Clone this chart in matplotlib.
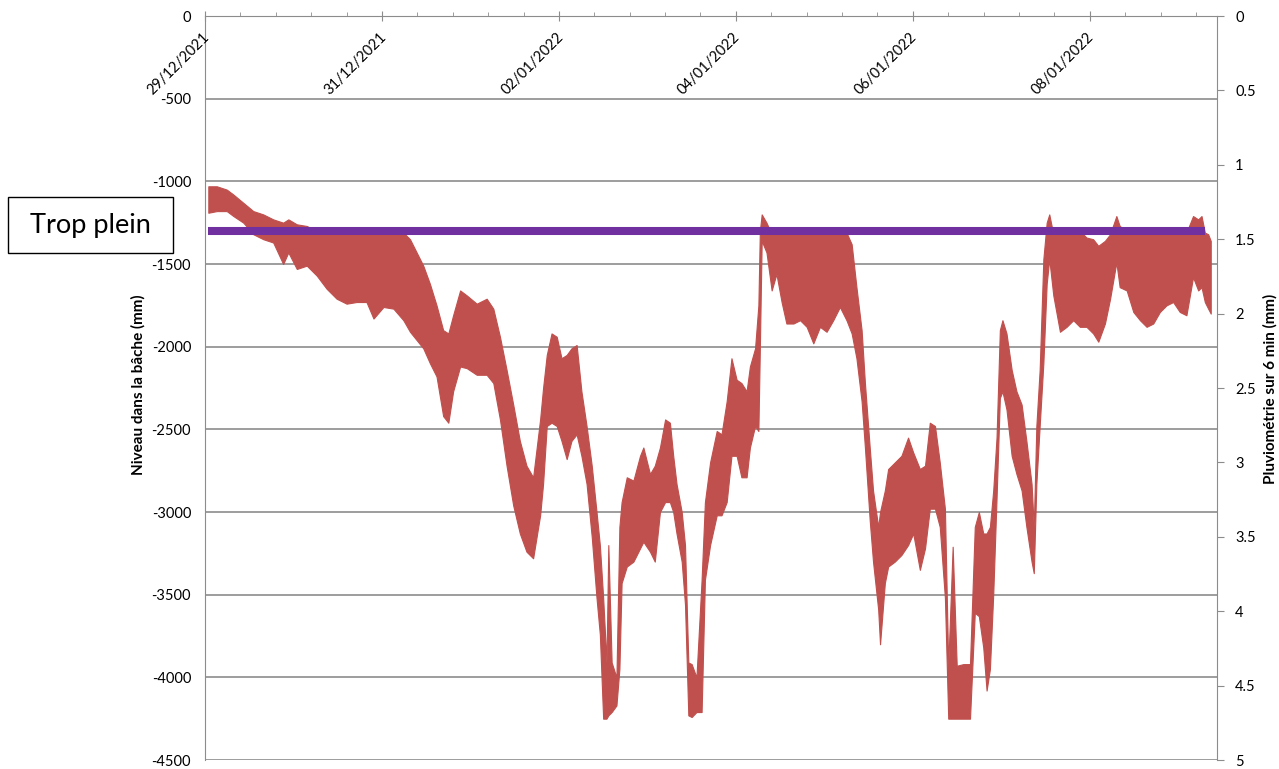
import numpy as np
import pandas as pd
import matplotlib
matplotlib.use('Agg')
import matplotlib.pyplot as plt
import matplotlib.dates as mdates
from matplotlib.ticker import AutoMinorLocator, MultipleLocator, FuncFormatter
from matplotlib.transforms import offset_copy
from matplotlib.patches import Rectangle

plt.rcParams['font.family'] = ['Lato', 'DejaVu Sans']
plt.rcParams['axes.unicode_minus'] = False

# debut de la serie : 29/12/2021 00:00, temps en heures
debut = pd.Timestamp('2021-12-29 00:00')

heures = [0.9, 3.2, 5.9, 7.7, 10.4, 13.1, 15.8, 18.5, 21.2, 22.6,
          24.9, 27.6, 30.3, 33.0, 35.7, 38.4, 41.1, 43.8, 45.7, 48.4,
          51.1, 53.8, 55.6, 57.4, 59.2, 61.0, 62.8, 64.6, 66.0, 67.3,
          69.2, 71.0, 73.7, 76.4, 78.2, 80.0, 81.8, 83.6, 85.4, 87.2,
          89.0,
          90.9, 91.7, 92.7, 94.0, 95.4, 96.7, 98.1, 99.4, 100.8, 102.1,
          103.5, 104.9, 106.2, 107.1, 108.0, 108.9, 109.4, 110.3, 111.6, 112.4,
          113.0, 114.4, 116.2, 118.0, 118.9, 120.7, 122.0, 123.4, 124.8, 126.1,
          127.0, 127.9, 129.3, 130.2, 131.1, 132.0, 133.3, 134.7, 135.6, 137.0,
          138.8, 140.1, 141.5, 142.8, 144.2, 145.5, 146.9, 147.8, 149.2, 150.1,
          150.5, 151.0, 152.3, 153.7, 155.0, 156.4, 157.7, 159.6, 161.4, 163.2,
          165.0, 166.8, 168.6, 170.4, 172.2, 174.0, 175.4, 176.7, 178.1, 179.0,
          180.3, 181.2, 182.6,
          183.1, 184.4, 185.3, 187.1, 188.9, 190.7, 192.1, 193.9, 195.3, 196.6,
          198.0, 199.3, 200.7, 201.6, 202.8, 203.9, 205.7, 207.5, 208.8, 209.9,
          211.1, 212.0, 212.9, 213.8, 214.7, 215.6, 216.3, 217.4, 218.8, 220.1,
          221.5, 222.8, 224.2, 224.8, 225.5, 226.4, 227.4, 228.3, 229.0, 230.1,
          231.9, 233.7, 235.5, 237.3, 239.1, 240.9, 242.3, 244.1, 245.5, 247.2,
          248.1, 250.0, 251.8, 253.6, 255.4, 257.2, 259.0, 260.8, 262.6, 264.4,
          266.2, 268.0, 269.4, 270.3, 271.2, 272.1, 272.8]

# enveloppe haute (niveau max) et basse (niveau min) du signal, en mm
niveau_haut = [-1030, -1030, -1050, -1080, -1130, -1180, -1200, -1230, -1250, -1230,
               -1260, -1270, -1300, -1300, -1300, -1300, -1300, -1300, -1300, -1300,
               -1300, -1310, -1350, -1430, -1510, -1620, -1750, -1900, -1920, -1810,
               -1660, -1690, -1740, -1710, -1770, -1940, -2140, -2350, -2570, -2720,
               -2790,
               -2440, -2250, -2050, -1920, -1940, -2070, -2050, -2010, -1990, -2270,
               -2480, -2720, -3000, -3200, -3520, -3910, -3200, -3910, -4000, -3090,
               -2940, -2790, -2810, -2660, -2610, -2770, -2720, -2610, -2440, -2460,
               -2660, -2830, -3000, -3200, -3910, -3920, -4000, -3410, -2940, -2700,
               -2510, -2530, -2330, -2070, -2200, -2220, -2270, -2120, -2010, -1750,
               -1300, -1200, -1250, -1320, -1300, -1300, -1300, -1300, -1300, -1300,
               -1300, -1300, -1300, -1300, -1300, -1310, -1380, -1640, -1900, -2220,
               -2610, -2870, -3090,
               -3000, -2870, -2740, -2700, -2660, -2550, -2640, -2740, -2720, -2460,
               -2480, -2700, -2980, -3930, -3210, -3930, -3920, -3920, -3090, -3000,
               -3130, -3130, -3090, -2870, -2550, -1900, -1840, -1920, -2140, -2270,
               -2350, -2570, -2830, -3090, -2480, -2140, -1470, -1250, -1200, -1320,
               -1300, -1300, -1300, -1300, -1340, -1350, -1390, -1360, -1320, -1210,
               -1270, -1300, -1310, -1310, -1310, -1310, -1310, -1310, -1310, -1310,
               -1310, -1210, -1230, -1210, -1310, -1320, -1360]

niveau_bas = [-1190, -1180, -1180, -1210, -1250, -1320, -1350, -1370, -1500, -1430,
              -1530, -1510, -1570, -1650, -1710, -1740, -1730, -1730, -1830, -1760,
              -1770, -1840, -1910, -1960, -2010, -2100, -2180, -2420, -2460, -2270,
              -2120, -2130, -2170, -2170, -2220, -2440, -2720, -2960, -3130, -3240,
              -3280,
              -3020, -2830, -2480, -2460, -2480, -2570, -2680, -2570, -2530, -2660,
              -2830, -3150, -3520, -3740, -4250, -4250, -4230, -4210, -4170, -3950,
              -3430, -3330, -3300, -3220, -3180, -3240, -3300, -3000, -2940, -2940,
              -3000, -3130, -3300, -3560, -4230, -4240, -4210, -4210, -3410, -3200,
              -3020, -3020, -2940, -2660, -2660, -2790, -2790, -2610, -2480, -2510,
              -2010, -1360, -1430, -1660, -1560, -1730, -1860, -1860, -1840, -1880,
              -1980, -1880, -1910, -1840, -1760, -1840, -1920, -2070, -2330, -2610,
              -3050, -3300, -3590,
              -3800, -3430, -3330, -3300, -3260, -3200, -3130, -3350, -3220, -2980,
              -2980, -3090, -3520, -4250, -4250, -4250, -4250, -4250, -3610, -3630,
              -3820, -4080, -3950, -3500, -2920, -2310, -2270, -2380, -2660, -2770,
              -2870, -3090, -3300, -3370, -2830, -2480, -2100, -1620, -1470, -1690,
              -1910, -1880, -1840, -1880, -1880, -1920, -1970, -1860, -1710, -1490,
              -1640, -1660, -1790, -1840, -1880, -1860, -1790, -1750, -1730, -1790,
              -1810, -1580, -1660, -1640, -1730, -1770, -1800]

# seuil du trop plein
trop_plein_heures = [0.9, 271.2]
trop_plein_niveau = [-1300, -1300]

dates_ticks = ['2021-12-29', '2021-12-31', '2022-01-02', '2022-01-04',
               '2022-01-06', '2022-01-08']
fin_axe_heures = 274.5

gris = '#8C8C8C'
rouge = '#C0504D'
violet = '#7030A0'

t = (debut + pd.to_timedelta(heures, unit='h')).to_pydatetime()
t_tp = (debut + pd.to_timedelta(trop_plein_heures, unit='h')).to_pydatetime()

fig = plt.figure(figsize=(12.79, 7.69), dpi=100)
ax = fig.add_axes([205 / 1279, 9 / 769, 1012 / 1279, 744 / 769])

ax.fill_between(t, niveau_bas, niveau_haut, color=rouge, edgecolor=rouge, lw=0.8, zorder=2)
ax.plot(t_tp, trop_plein_niveau, color=violet, lw=5.8, solid_capstyle='butt', zorder=3)

ax.set_ylim(-4500, 0)
ax.set_xlim(debut, debut + pd.Timedelta(hours=fin_axe_heures))
ax.yaxis.set_major_locator(MultipleLocator(500))
ax.grid(axis='y', color=gris, lw=1.2)
ax.set_axisbelow(True)
ax.tick_params(axis='y', length=0, pad=10, labelsize=10.5)

# axe des dates en haut, etiquettes sous la ligne
ticks = [pd.Timestamp(d) for d in dates_ticks]
ax.xaxis.tick_top()
ax.set_xticks(mdates.date2num(ticks))
ax.xaxis.set_minor_locator(AutoMinorLocator(5))
ax.tick_params(axis='x', which='major', direction='inout', length=7, color=gris,
               labeltop=False, labelbottom=False)
ax.tick_params(axis='x', which='minor', direction='out', length=3, color=gris)
tr = offset_copy(ax.get_xaxis_transform(), fig=fig, x=2, y=-19, units='dots')
for d in ticks:
    ax.text(mdates.date2num(d), 1, d.strftime('%d/%m/%Y'), transform=tr,
            rotation=45, rotation_mode='anchor', ha='right', va='center', fontsize=10.5)

for s in ['top', 'left']:
    ax.spines[s].set_color(gris)
ax.spines['bottom'].set_visible(False)
ax.spines['right'].set_visible(False)

# axe de droite (pluviometrie)
ax2 = ax.twinx()
ax2.set_ylim(5, 0)
ax2.yaxis.set_major_locator(MultipleLocator(0.5))
ax2.yaxis.set_major_formatter(FuncFormatter(lambda v, p: '%g' % v))
ax2.tick_params(axis='y', length=5, color=gris, pad=8, labelsize=10.5)
for s in ['top', 'left', 'bottom']:
    ax2.spines[s].set_visible(False)
ax2.spines['right'].set_color(gris)

fig.text(138 / 1279, 1 - 385 / 769, 'Niveau dans la bâche (mm)', rotation=90,
         ha='center', va='center', fontsize=11, fontweight='bold')
fig.text(1270 / 1279, 1 - 389 / 769, 'Pluviométrie sur 6 min (mm)', rotation=90,
         ha='center', va='center', fontsize=11, fontweight='bold')

fig.add_artist(Rectangle((8 / 1279, 1 - 253 / 769), 165 / 1279, 56 / 769,
                         transform=fig.transFigure, fill=False, ec='black', lw=1))
fig.text(90 / 1279, 1 - 225 / 769, 'Trop plein', ha='center', va='center', fontsize=19.5)

fig.savefig('out.png', dpi=100)
